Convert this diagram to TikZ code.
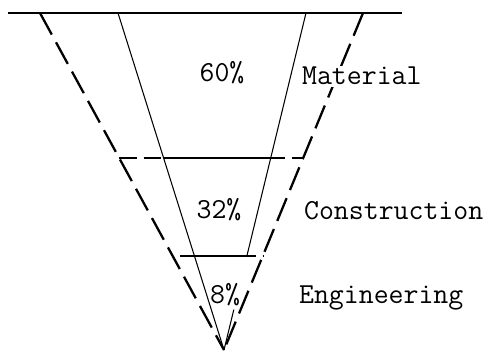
\documentclass[tikz,border=0pt]{standalone}
\usepackage{fontspec}
\usetikzlibrary{calc}
\tikzset{
  topline/.style={line width=1.3pt},
  inner/.style={line width=0.6pt},
  outer/.style={line width=1.3pt, dash pattern=on 14pt off 5pt},
  pct/.style={font=\ttfamily\fontsize{16.5}{19}\selectfont, inner sep=0pt, anchor=base},
  cat/.style={font=\ttfamily\fontsize{16.5}{19}\selectfont, inner sep=1pt, anchor=base west, fill=white},
}

\begin{document}
\begin{tikzpicture}[x=0.02cm, y=-0.02cm]
\useasboundingbox (0,0) rectangle (501,358);

% ============================ funnel frame ==============================
\coordinate (tL) at (8,13);
\coordinate (tR) at (402,13);
\coordinate (oL) at (40,13);
\coordinate (iL) at (118,13);
\coordinate (iR) at (306,13);
\coordinate (oR) at (363,13);
\coordinate (apex) at (224,350);

% level cuts
\coordinate (oL1) at ($(oL)!0.43!(apex)$);
\coordinate (iL1) at ($(iL)!0.43!(apex)$);
\coordinate (iR1) at ($(iR)!0.43!(apex)$);
\coordinate (oR1) at ($(oR)!0.43!(apex)$);
\coordinate (oL2) at ($(oL)!0.721!(apex)$);
\coordinate (iR2) at ($(iR)!0.721!(apex)$);
\coordinate (oR2) at ($(oR)!0.721!(apex)$);
\coordinate (iR3) at ($(iR)!0.88!(apex)$);

\draw[topline] (tL) -- (tR);
\draw[inner] (iL) -- (apex);
\draw[inner] (iR) -- (iR2);
\draw[inner] (iR3) -- (apex);
\draw[outer] (oL) -- (apex);
\draw[outer] (oR) -- (apex);

% ============================ horizontal cuts ===========================
\draw[outer, dash pattern=on 10pt off 4pt] (oL1) -- (iL1);
\draw[inner, line width=0.8pt] (iL1) -- (iR1);
\draw[outer, dash pattern=on 8pt off 4pt] (iR1) -- (oR1);
\draw[inner, line width=0.9pt] ($(oL2)+(7,0)$) -- (iR2);
\draw[outer, dash pattern=on 5pt off 4pt] (iR2) -- (oR2);

% ============================ shares and labels =========================
\node[pct] (p60) at (222,82) {60\%};
\node[pct] (p32) at (219,219) {32\%};
\node[pct] (p8) at (225,303) {8\%};
\node[cat] (mat) at (300,85) {Material};
\node[cat] (con) at (302,220) {Construction};
\node[cat] (eng) at (297,303) {Engineering};

\end{tikzpicture}
\end{document}
